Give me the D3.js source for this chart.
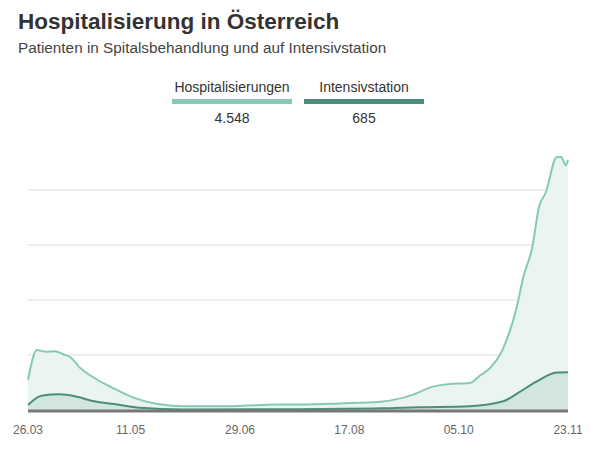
<!DOCTYPE html>
<html lang="de">
<head>
<meta charset="UTF-8">
<style>
  body { margin: 0; background: #fff; font-family: "Liberation Sans", Arial, sans-serif; }
</style>
</head>
<body>
<div id="chart"></div>
<script src="https://d3js.org/d3.v7.min.js"></script>
<script>
const WIDTH = 600, HEIGHT = 453;
const START = new Date(2020, 2, 26);

// days since 26.03.2020
const HOSP_DAYS = [0, 4, 8, 12, 16, 19, 23, 29, 38, 47, 58, 71, 92, 112, 122, 140, 158, 172, 181, 188, 198, 203, 207, 212, 219, 222, 226, 229, 232, 237, 239, 241, 242];
const HOSP_VALS = [550, 1090, 1060, 1070, 1010, 960, 780, 600, 400, 230, 110, 70, 70, 100, 100, 120, 150, 270, 420, 470, 490, 640, 760, 1040, 1870, 2420, 2960, 3690, 3950, 4600, 4600, 4450, 4548];
const ICU_DAYS = [0, 6, 14, 22, 29, 40, 50, 70, 120, 158, 175, 198, 213, 220, 228, 237, 242];
const ICU_VALS = [90, 260, 285, 240, 165, 100, 40, 10, 15, 30, 50, 70, 160, 320, 520, 680, 685];
const TICK_DATES = ["2020-03-26", "2020-05-11", "2020-06-29", "2020-08-17", "2020-10-05", "2020-11-23"];
const GRID_VALUES = [1000, 2000, 3000, 4000];

const toDate = d => d3.timeDay.offset(START, d);
const hosp = HOSP_DAYS.map((d, i) => ({ date: toDate(d), v: HOSP_VALS[i] }));
const icu = ICU_DAYS.map((d, i) => ({ date: toDate(d), v: ICU_VALS[i] }));

const x = d3.scaleTime().domain([START, new Date(2020, 10, 23)]).range([28, 568]);
const y = d3.scaleLinear().domain([0, 4000]).range([410, 190]);

const svg = d3.select("#chart").append("svg").attr("width", WIDTH).attr("height", HEIGHT);

svg.append("text").attr("x", 18).attr("y", 29).attr("font-size", 22.5).attr("font-weight", "bold")
  .attr("fill", "#333").text("Hospitalisierung in Österreich");
svg.append("text").attr("x", 18).attr("y", 53).attr("font-size", 15.3).attr("fill", "#444")
  .text("Patienten in Spitalsbehandlung und auf Intensivstation");

// legend
const legend = [
  { name: "Hospitalisierungen", val: "4.548", color: "#86c9b6", cx: 232 },
  { name: "Intensivstation", val: "685", color: "#4c8d7d", cx: 364 }
];
legend.forEach(l => {
  svg.append("text").attr("x", l.cx).attr("y", 92).attr("text-anchor", "middle")
    .attr("font-size", 14).attr("fill", "#333").text(l.name);
  svg.append("rect").attr("x", l.cx - 60).attr("y", 99).attr("width", 120).attr("height", 5).attr("fill", l.color);
  svg.append("text").attr("x", l.cx).attr("y", 123).attr("text-anchor", "middle")
    .attr("font-size", 14).attr("fill", "#333").text(l.val);
});

svg.append("g").selectAll("line").data(GRID_VALUES).join("line")
  .attr("x1", 28).attr("x2", 568).attr("y1", d => y(d)).attr("y2", d => y(d))
  .attr("stroke", "#eee").attr("stroke-width", 2);

const area = d3.area().x(d => x(d.date)).y0(y(0)).y1(d => y(d.v)).curve(d3.curveMonotoneX);
const line = d3.line().x(d => x(d.date)).y(d => y(d.v)).curve(d3.curveMonotoneX);

svg.append("path").datum(hosp).attr("d", area).attr("fill", "#eaf5f2");
svg.append("path").datum(icu).attr("d", area).attr("fill", "#d2e5df");
svg.append("path").datum(hosp).attr("d", line).attr("fill", "none").attr("stroke", "#86c9b6").attr("stroke-width", 2);
svg.append("path").datum(icu).attr("d", line).attr("fill", "none").attr("stroke", "#4c8d7d").attr("stroke-width", 2);

svg.append("line").attr("x1", 28).attr("x2", 568).attr("y1", y(0) + 1).attr("y2", y(0) + 1)
  .attr("stroke", "#777").attr("stroke-width", 3);

const fmt = d3.timeFormat("%d.%m");
svg.append("g").selectAll("text").data(TICK_DATES.map(d => d3.timeParse("%Y-%m-%d")(d))).join("text")
  .attr("x", d => x(d)).attr("y", 434).attr("text-anchor", "middle")
  .attr("font-size", 12).attr("fill", "#666").text(d => fmt(d));
</script>
</body>
</html>
